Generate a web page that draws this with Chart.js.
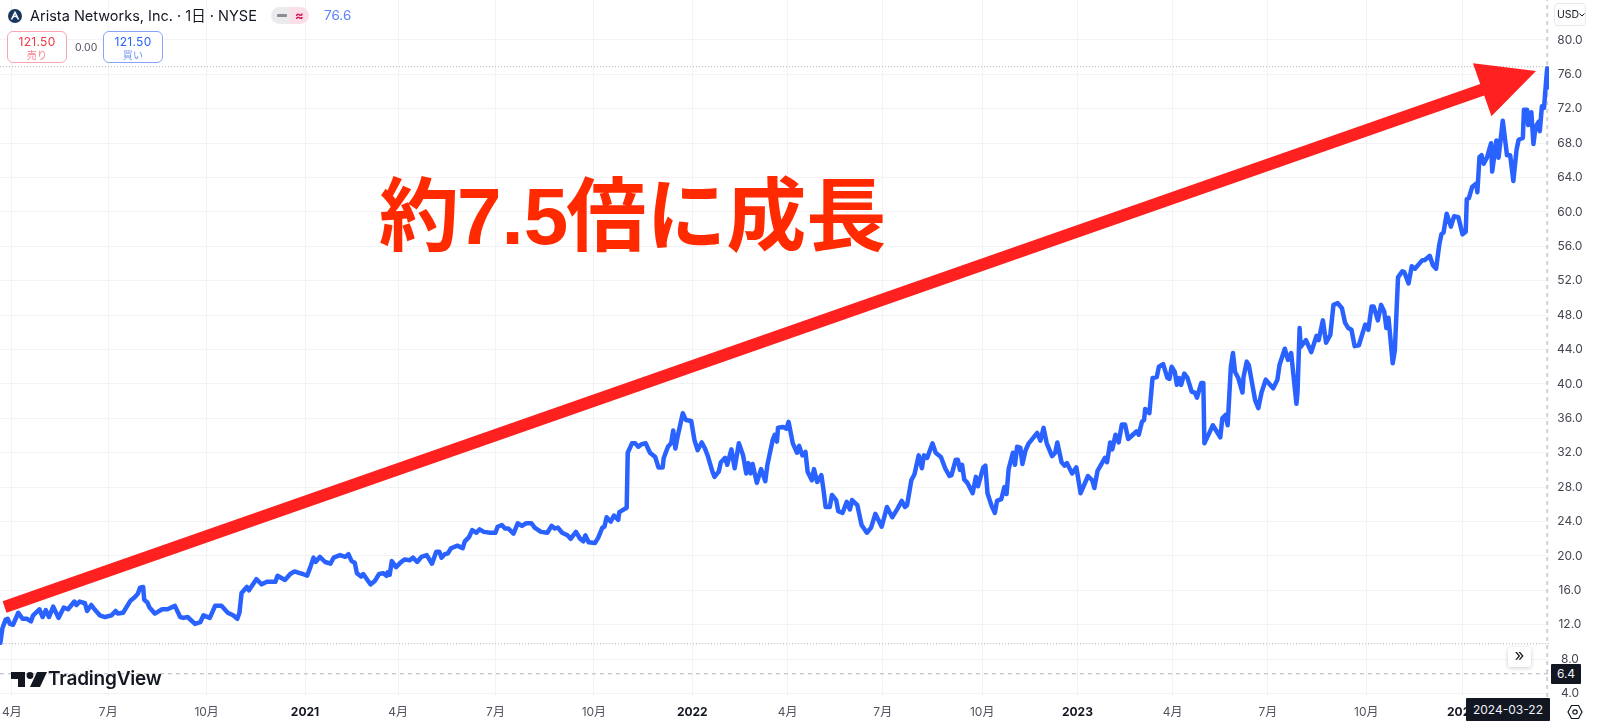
<!DOCTYPE html>
<html lang="ja">
<head>
<meta charset="utf-8">
<title>Arista Networks</title>
<script src="https://cdn.jsdelivr.net/npm/chart.js@4"></script>
<style>
  html, body { margin: 0; padding: 0; background: #fff; overflow: hidden; }
  body { font-family: Inter, "Noto Sans CJK JP", sans-serif; color: #131722; }
  #wrap { position: relative; width: 1600px; height: 723px; }
  #wrap > div, #wrap > svg { position: absolute; white-space: nowrap; }
  .btn { box-sizing: border-box; width: 60px; height: 32px; border-radius: 6px; border: 1px solid; background: #fff; text-align: center; font-size: 12px; line-height: 13px; padding-top: 3px; letter-spacing: .3px; }
  .btn span { display: block; font-size: 10px; line-height: 14px; }
  .tag { background: #131722; color: #f0f3fa; font-size: 12px; text-align: center; }
</style>
</head>
<body>
<div id="wrap">
  <canvas id="priceChart" width="1600" height="723"></canvas>

  <svg style="left:8px;top:9px" width="14" height="14" viewBox="0 0 14 14"><circle cx="7" cy="7" r="7" fill="#17375e"/><path d="M3.5 10.5 L7 3.5 L10.5 10.5" fill="none" stroke="#fff" stroke-width="1.6"/><path d="M5.2 8.2 L7 7 L8.8 8.2" fill="none" stroke="#fff" stroke-width="1.2"/></svg>
  <div style="left:30px;top:7px;font-size:14.5px;line-height:17px">Arista Networks, Inc. · 1日 · NYSE</div>
  <div style="left:271px;top:7px;width:19px;height:17px;background:#ebebed;border-radius:9px 0 0 9px"></div>
  <div style="left:290px;top:7px;width:19px;height:17px;background:#fbdfe6;border-radius:0 9px 9px 0;color:#d81b60;font-size:13px;line-height:16px;text-align:center;font-weight:700">≈</div>
  <div style="left:277px;top:14px;width:10px;height:3px;background:#8a8d96;border-radius:1px"></div>
  <div style="left:324px;top:7px;font-size:13.5px;line-height:17px;color:#5b83f5">76.6</div>

  <div class="btn" style="left:7px;top:31px;border-color:#f7a6ad;color:#f23645">121.50<span style="color:#f7828c">売り</span></div>
  <div style="left:75px;top:41px;font-size:10.5px;line-height:13px;color:#50535e">0.00</div>
  <div class="btn" style="left:103px;top:31px;border-color:#86a5f7;color:#2962ff">121.50<span style="color:#7094f5">買い</span></div>

  <div style="left:379px;top:154px;font-size:80px;line-height:110px;font-weight:700;color:#ff2a00;font-family:'Noto Sans CJK JP',sans-serif">約<span style="font-family:'Liberation Sans',sans-serif;margin:0 -2px">7.5</span>倍に成長</div>

  <svg style="left:11px;top:671px" width="36" height="17" viewBox="0 0 36 17"><path d="M0 1h14v15h-7V8H0z" fill="#131722"/><circle cx="19" cy="4.5" r="3.4" fill="#131722"/><path d="M26 1h10l-7 15H19z" fill="#131722"/></svg>
  <div style="left:48px;top:667px;font-size:19px;line-height:24px;font-weight:600;letter-spacing:-0.2px">TradingView</div>

  <div style="left:1508px;top:647px;width:23px;height:20px;background:#fff;border-radius:3px;box-shadow:0 1px 4px rgba(0,0,0,.2);font-size:17px;line-height:17px;text-align:center">»</div>

  <div style="box-sizing:border-box;left:1554px;top:3px;width:32px;height:23px;border:1px solid #e6e8ee;border-radius:4px;font-size:10.5px;line-height:21px;padding-left:2px">USD<svg style="position:absolute;left:24px;top:9px" width="6" height="4" viewBox="0 0 6 4"><path d="M.5.5 3 3 5.500.5" fill="none" stroke="#131722"/></svg></div>
  <div class="tag" style="left:1551px;top:664px;width:30px;height:20px;line-height:20px;border-radius:1px">6.4</div>
  <div class="tag" style="left:1466px;top:698px;width:84px;height:23px;line-height:23px;border-radius:1px">2024-03-22</div>
  <svg style="left:1567px;top:704px" width="16" height="16" viewBox="0 0 16 16"><path d="M4.500 1.500h7L15 8l-3.500 6.500h-7L1 8z" fill="none" stroke="#131722" stroke-width="1.2"/><circle cx="8" cy="8" r="2.200" fill="none" stroke="#131722" stroke-width="1.2"/></svg>
</div>

<script>
// days since 2020-04-01
const days = [
  -11,-9,-6,-4,-2,1,6,10,14,18,20,26,29,32,35,39,44,49,53,59,61,64,69,71,75,78,83,88,94,98,
  100,105,112,116,119,121,124,125,128,130,135,142,147,154,159,162,166,173,178,181,187,192,198,204,209,213,215,217,222,224,
  231,236,241,249,251,258,263,267,272,275,279,282,285,287,291,296,301,304,310,315,318,321,324,326,330,332,336,339,343,347,
  351,354,355,357,359,363,367,371,376,379,383,387,392,397,401,404,406,409,412,415,421,426,428,432,435,439,442,446,452,457,
  459,463,466,469,474,478,482,486,491,494,500,506,510,513,516,520,525,528,533,537,540,542,545,551,554,558,560,562,566,569,
  573,574,581,582,586,589,592,595,599,603,608,611,615,616,620,623,625,627,629,634,637,642,645,648,652,655,658,662,664,668,
  670,674,676,680,683,687,691,694,696,698,700,704,708,712,714,719,721,723,724,729,732,734,738,742,744,747,750,752,756,758,
  761,765,767,769,773,775,779,781,785,789,792,794,799,803,808,812,816,822,827,832,837,841,844,846,850,853,857,860,862,865,
  870,873,878,882,886,888,892,894,896,898,900,903,908,911,913,918,920,922,926,929,931,935,938,940,942,946,948,950,953,955,
  958,961,965,969,972,975,978,983,986,988,992,995,997,1002,1006,1010,1017,1021,1023,1026,1033,1035,1038,1040,1043,1046,1049,1052,1055,1063,
  1065,1068,1070,1071,1075,1078,1082,1084,1088,1092,1094,1096,1099,1101,1103,1105,1108,1111,1115,1118,1120,1124,1126,1127,1132,1135,1142,1144,1147,1149,
  1152,1154,1156,1159,1163,1164,1167,1169,1175,1178,1181,1185,1192,1196,1198,1203,1206,1209,1214,1215,1217,1218,1223,1228,1233,1235,1239,1242,1246,1249,
  1253,1257,1260,1263,1266,1269,1273,1279,1282,1285,1287,1291,1294,1297,1299,1301,1305,1307,1310,1314,1316,1320,1323,1326,1333,1335,1337,1340,1343,1346,
  1349,1351,1353,1356,1360,1363,1367,1371,1374,1375,1377,1380,1384,1385,1387,1389,1391,1394,1398,1399,1403,1405,1409,1413,1416,1419,1422,1424,1428,1429,
  1432,1433,1436,1438,1440,1443,1444,1446,1448,1450,1451,1452
];
const closes = [
  9.9,11.6,12.6,12.7,12.1,12.0,13.4,12.7,12.7,12.4,13.1,13.8,12.9,13.7,12.9,14.1,12.8,14.0,13.8,14.7,14.3,14.7,14.5,13.6,14.3,13.8,13.1,12.9,13.1,13.6,
  13.3,13.4,14.8,15.2,15.6,16.3,16.4,14.9,14.6,14.0,13.3,13.8,13.8,14.2,12.9,12.8,12.9,12.1,12.3,13.1,12.8,14.2,14.2,13.4,13.1,12.7,13.4,15.7,16.4,16.0,
  17.3,16.7,17.0,17.0,17.7,17.2,17.9,18.2,18.0,17.9,17.7,18.7,19.8,19.3,19.9,19.3,19.1,19.8,20.1,19.9,20.2,19.4,19.2,18.0,17.6,17.9,17.2,16.7,17.1,17.9,
  18.0,17.7,18.1,17.8,19.4,18.7,19.2,19.6,19.5,19.8,19.3,19.9,20.1,19.1,20.5,20.5,19.8,20.2,20.3,20.9,21.2,20.9,21.7,22.2,23.0,22.7,23.1,22.8,22.7,22.7,
  23.4,23.6,23.2,23.2,22.6,23.8,23.5,23.8,23.8,23.3,22.8,22.7,23.5,23.2,23.3,22.7,22.4,22.0,22.8,22.0,21.7,22.4,21.6,21.5,22.1,23.3,23.4,24.5,24.0,24.7,
  24.2,25.1,25.6,32.0,33.1,33.1,32.7,33.0,33.1,32.0,31.5,30.3,30.3,31.4,32.7,33.1,34.6,32.5,33.8,36.6,35.8,35.7,33.5,32.3,33.2,32.5,31.5,29.8,29.2,29.8,
  30.9,31.4,30.6,32.4,30.2,33.1,31.7,29.6,30.8,29.6,30.7,28.5,30.1,28.7,30.6,33.5,34.1,33.3,34.9,35.0,34.8,35.6,33.1,32.0,32.8,31.7,32.1,29.8,28.8,30.1,
  28.6,29.4,27.7,25.7,25.7,27.1,26.5,25.2,25.0,26.3,25.4,26.5,25.9,23.6,22.7,23.3,24.9,23.4,25.7,24.5,25.5,26.4,25.7,25.9,28.8,29.5,31.7,30.2,31.7,31.4,
  33.1,32.0,31.5,30.2,29.3,29.4,31.2,31.2,30.0,30.6,28.9,28.5,27.3,29.2,28.1,30.3,30.5,27.3,25.8,25.0,26.4,26.6,28.0,27.2,30.1,32.0,30.6,32.7,32.6,30.7,
  32.3,33.1,33.7,34.3,33.4,34.9,33.1,31.6,32.0,33.2,30.9,30.5,30.8,29.6,30.3,27.3,29.3,28.8,27.9,29.9,31.4,30.9,33.2,32.4,34.1,33.2,35.3,35.3,33.6,34.5,
  34.1,35.6,35.8,37.1,36.6,40.7,40.8,42.0,42.3,40.7,40.6,42.0,41.4,39.9,40.7,39.9,41.2,40.7,39.1,39.0,38.4,40.1,40.1,33.1,34.4,35.2,33.8,36.0,36.4,35.2,
  42.0,43.6,41.4,40.7,39.0,40.8,42.6,42.2,38.1,37.2,39.0,40.5,39.5,40.5,42.2,44.1,42.8,43.6,37.7,39.0,46.5,44.3,45.1,43.7,45.6,45.1,47.4,44.8,45.7,49.2,
  49.4,48.8,47.1,46.5,46.3,44.4,44.5,46.9,46.3,49.0,49.0,47.4,49.2,48.4,46.5,47.7,42.4,43.9,52.4,53.1,53.0,51.7,53.7,53.4,54.4,54.4,54.6,54.9,53.8,53.4,
  56.2,57.4,57.6,59.8,58.3,59.5,59.4,57.4,57.7,61.5,61.6,62.9,63.3,62.3,66.4,66.6,65.6,66.3,68.0,64.7,68.3,66.3,70.6,66.6,66.6,63.6,67.2,68.4,68.6,71.9,
  71.9,70.1,71.6,67.9,69.9,70.5,69.4,72.3,72.1,75.3,76.7,74.5
];

const priceTicks = [4,8,12,16,20,24,28,32,36,40,44,48,52,56,60,64,68,72,76,80];
const timeTicks = [0,91,184,277,365,457,550,643,733,823,917,1007,1097,1187,1280,1371];
const timeLabels = ['4月','7月','10月','2021','4月','7月','10月','2022','4月','7月','10月','2023','4月','7月','10月','2024'];

const xMin = -11.3, xMax = 1452.7;
const yMin = 3.6, yMax = 84.65;

const lastPriceLine = [76.9, 76.9];
const prevCloseLine = [9.8, 9.8];
const crossPriceLine = [6.3, 6.3];
const crossDay = 1451;

// red arrow, tail and tip in chart units
const arrowFrom = { x: -7, y: 14.07 };
const arrowTo = { x: 1440.4, y: 76.4 };

function isYear(i) {
  return (timeLabels[i] || '').length === 4;
}

function hline(vals, dash, color) {
  return {
    data: [{ x: xMin, y: vals[0] }, { x: xMax, y: vals[1] }],
    borderColor: color, borderWidth: 1, borderDash: dash, pointRadius: 0, order: 5
  };
}

// the pane runs to the window edge, labels must not push it in
function noPadding(s) {
  s.paddingLeft = s.paddingRight = s.paddingTop = s.paddingBottom = 0;
}

const arrowPlugin = {
  id: 'arrow',
  afterDatasetsDraw(chart) {
    const { ctx, scales: { x, y } } = chart;
    const x0 = x.getPixelForValue(arrowFrom.x), y0 = y.getPixelForValue(arrowFrom.y);
    const x1 = x.getPixelForValue(arrowTo.x), y1 = y.getPixelForValue(arrowTo.y);
    const len = Math.hypot(x1 - x0, y1 - y0);
    ctx.save();
    ctx.translate(x0, y0);
    ctx.rotate(Math.atan2(y1 - y0, x1 - x0));
    ctx.fillStyle = '#ff2020';
    ctx.beginPath();
    ctx.moveTo(0, -6);
    ctx.lineTo(len - 57, -6);
    ctx.lineTo(len - 57, -28);
    ctx.lineTo(len, 0);
    ctx.lineTo(len - 57, 28);
    ctx.lineTo(len - 57, 6);
    ctx.lineTo(0, 6);
    ctx.closePath();
    ctx.fill();
    ctx.restore();
  }
};

new Chart(document.getElementById('priceChart'), {
  type: 'line',
  data: {
    datasets: [
      {
        data: days.map((d, i) => ({ x: d, y: closes[i] })),
        borderColor: '#2962ff',
        borderWidth: 4.5,
        pointRadius: 0,
        tension: 0,
        borderJoinStyle: 'round',
        borderCapStyle: 'round',
        order: 1
      },
      hline(lastPriceLine, [1, 2], '#b2b5be'),
      hline(prevCloseLine, [1, 2], '#b2b5be'),
      hline(crossPriceLine, [4, 4], '#b2b5be'),
      {
        data: [{ x: crossDay, y: yMin }, { x: crossDay, y: yMax }],
        borderColor: '#cfd1d6', borderWidth: 2, borderDash: [4, 4], pointRadius: 0, order: 6
      }
    ]
  },
  options: {
    responsive: false,
    animation: false,
    layout: { padding: 0 },
    plugins: { legend: { display: false }, tooltip: { enabled: false } },
    scales: {
      x: {
        type: 'linear',
        min: xMin,
        max: xMax,
        afterBuildTicks: s => { s.ticks = timeTicks.map(v => ({ value: v })); },
        afterFit: s => { s.height = 26; noPadding(s); },
        grid: { color: '#f3f3f5', drawTicks: false },
        border: { display: false },
        ticks: {
          autoSkip: false,
          maxRotation: 0,
          padding: 8,
          color: c => isYear(c.index) ? '#131722' : '#50535e',
          font: c => ({ family: 'Inter, "Noto Sans CJK JP", sans-serif', size: 12, weight: isYear(c.index) ? '700' : '400' }),
          callback: (v, i) => timeLabels[i]
        }
      },
      y: {
        position: 'right',
        min: yMin,
        max: yMax,
        afterBuildTicks: s => { s.ticks = priceTicks.map(v => ({ value: v })); },
        afterFit: s => { s.width = 51; noPadding(s); },
        grid: { color: '#f3f3f5', drawTicks: false },
        border: { display: false },
        ticks: {
          autoSkip: false,
          padding: 8,
          crossAlign: 'center',
          color: '#434651',
          font: { family: 'Inter, sans-serif', size: 12 },
          callback: v => v.toFixed(1)
        }
      }
    }
  },
  plugins: [arrowPlugin]
});
</script>
</body>
</html>
